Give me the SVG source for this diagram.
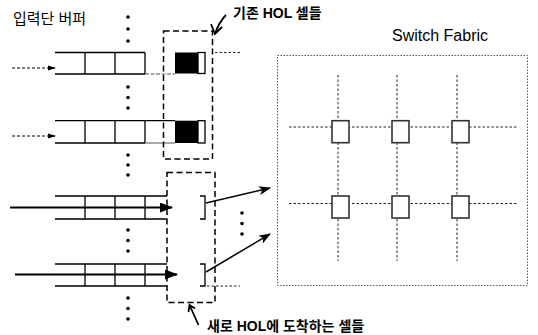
<svg xmlns="http://www.w3.org/2000/svg" width="538" height="335" viewBox="0 0 538 335">
<style>
.ln{stroke:#000;stroke-width:1.3;fill:none}
.lt{stroke:#555;stroke-width:1;fill:none}
.dot{fill:#000}
.hol{stroke:#000;stroke-width:1.5;fill:none;stroke-dasharray:6,3.5}
.dl{stroke:#222;stroke-width:1;fill:none;stroke-dasharray:2.5,2}
.xp{fill:#fff;stroke:#333;stroke-width:1.6}
.txt{font-family:"Liberation Sans","Noto Sans CJK KR",sans-serif;fill:#000}
.b{font-weight:bold}
</style>
<defs>
<marker id="sm" markerWidth="8" markerHeight="6" refX="7" refY="3" orient="auto" markerUnits="userSpaceOnUse"><path d="M0,0.5 L8,3 L0,5.5 z" fill="#000"/></marker>
<marker id="bg" markerWidth="13" markerHeight="10" refX="12" refY="5" orient="auto" markerUnits="userSpaceOnUse"><path d="M0,0 L13,5 L0,10 z" fill="#000"/></marker>
<marker id="md" markerWidth="12" markerHeight="9" refX="11" refY="4.5" orient="auto" markerUnits="userSpaceOnUse"><path d="M0,0 L12,4.5 L0,9 L3,4.5 z" fill="#000"/></marker>
</defs>

<text class="txt" x="13" y="24" font-size="15">입력단 버퍼</text>

<g id="dots">
<circle class="dot" cx="128" cy="17" r="1.8"/><circle class="dot" cx="128" cy="29" r="1.8"/><circle class="dot" cx="128" cy="41" r="1.8"/>
<circle class="dot" cx="128" cy="87" r="1.8"/><circle class="dot" cx="128" cy="97.5" r="1.8"/><circle class="dot" cx="128" cy="108" r="1.8"/>
<circle class="dot" cx="128" cy="155" r="1.8"/><circle class="dot" cx="128" cy="165" r="1.8"/><circle class="dot" cx="128" cy="175" r="1.8"/>
<circle class="dot" cx="128" cy="230" r="1.8"/><circle class="dot" cx="128" cy="240.5" r="1.8"/><circle class="dot" cx="128" cy="251" r="1.8"/>
<circle class="dot" cx="128" cy="298" r="1.8"/><circle class="dot" cx="128" cy="308.5" r="1.8"/><circle class="dot" cx="128" cy="319" r="1.8"/>
<circle class="dot" cx="242" cy="213" r="1.8"/><circle class="dot" cx="242" cy="223.5" r="1.8"/><circle class="dot" cx="242" cy="234" r="1.8"/>
</g>

<g id="buffer1">
<path class="ln" d="M55,52.5 H145 M55,74 H145 M85,52.5 V74 M115,52.5 V74 M145,52.5 V74"/>
<path class="lt" d="M145,74 H175" stroke-dasharray="4,1.5"/>
<rect x="175" y="52.5" width="23" height="21" fill="#000"/>
<rect x="198" y="52.5" width="7" height="21" class="ln"/>
</g>
<g id="buffer2">
<path class="ln" d="M55,120.7 H175 M55,143 H145 M85,120.7 V143 M115,120.7 V143 M145,120.7 V143"/>
<path class="lt" d="M145,143 H175" stroke="#aaa"/>
<rect x="175" y="120.7" width="23" height="22.3" fill="#000"/>
<rect x="198" y="120.7" width="7" height="22.3" class="ln"/>
</g>
<g id="buffer3">
<path class="ln" d="M55,196 H167 M55,219 H167 M85,196 V219 M115,196 V219 M145,196 V219"/>
<path class="ln" d="M200,196 H205 V219 H200"/>
</g>
<g id="buffer4">
<path class="ln" d="M55,264 H167 M55,286 H167 M85,264 V286 M115,264 V286 M145,264 V286"/>
<path class="ln" d="M200,264 H205 V286 H200"/>
<path class="dl" d="M207,286 H240"/>
</g>

<g id="hol-existing">
<rect class="hol" x="163.5" y="31" width="49" height="128"/>
<path class="dl" d="M215,52.5 H242"/>
</g>
<g id="hol-new">
<rect class="hol" x="167" y="172.5" width="48" height="130"/>
</g>

<g id="switch-fabric">
<text class="txt" x="392" y="40.7" font-size="16">Switch Fabric</text>
<rect x="277.5" y="55.5" width="250" height="230" fill="none" stroke="#555" stroke-width="1" stroke-dasharray="1.5,1.5"/>
<path class="dl" d="M289,127 H518 M289,203.5 H518 M338,75 V261 M397,75 V261 M457,75 V261"/>
<rect class="xp" x="332" y="120.7" width="17" height="22"/>
<rect class="xp" x="392" y="120.7" width="17" height="22"/>
<rect class="xp" x="452" y="120.7" width="17" height="22"/>
<rect class="xp" x="332" y="196" width="17" height="22"/>
<rect class="xp" x="392" y="196" width="17" height="22"/>
<rect class="xp" x="452" y="196" width="17" height="22"/>
</g>

<g id="connectors">
<path d="M12,68 H55" stroke="#000" stroke-width="1" stroke-dasharray="3,2" fill="none" marker-end="url(#sm)"/>
<path d="M12,136 H55" stroke="#000" stroke-width="1" stroke-dasharray="3,2" fill="none" marker-end="url(#sm)"/>
<path d="M10,207.5 H172" stroke="#000" stroke-width="2" fill="none" marker-end="url(#bg)"/>
<path d="M15,274.5 H177" stroke="#000" stroke-width="2" fill="none" marker-end="url(#bg)"/>
<path d="M206,203 L270,188" stroke="#000" stroke-width="1.5" fill="none" marker-end="url(#md)"/>
<path d="M206,272 L270,234" stroke="#000" stroke-width="1.5" fill="none" marker-end="url(#md)"/>
<path d="M226,15 Q219,22 215,34 M211,24 L215,34 L222,27" stroke="#000" stroke-width="1.8" fill="none"/>
<path d="M198.5,325 L189.5,305 M188.5,312 L189.5,305 L195,308.5" stroke="#000" stroke-width="1.8" fill="none"/>
</g>

<text class="txt b" x="233" y="17.5" font-size="14">기존 HOL 셀들</text>
<text class="txt b" x="207" y="331" font-size="14">새로 HOL에 도착하는 셀들</text>
</svg>
